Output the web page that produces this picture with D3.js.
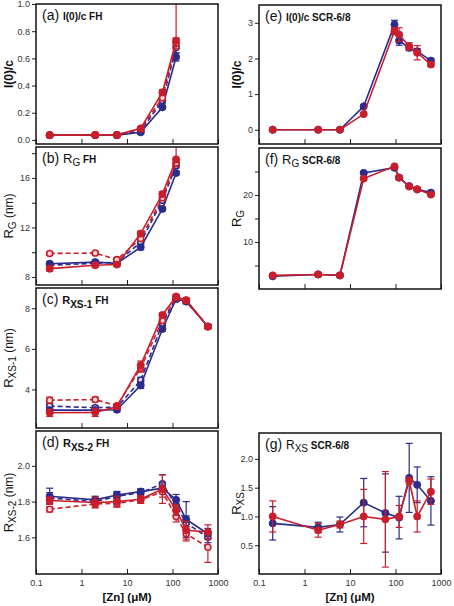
<!DOCTYPE html>
<html><head><meta charset="utf-8">
<script src="https://cdn.jsdelivr.net/npm/d3@7"></script>
<style>
body{margin:0;background:#fff}
svg{display:block}
text{font-family:"Liberation Sans",Arial,sans-serif}
</style>
</head><body>
<svg id="c" width="454" height="606"></svg>
<script>
// ---------- DATA ----------
const xTickValues = [0.1, 1, 10, 100, 1000];
const xTickLabels = ["0.1", "1", "10", "100", "1000"];

// FH series concentrations
const znA = [0.2, 2, 6, 20, 60, 120];
const znC = [0.2, 2, 6, 20, 60, 120, 200, 600];
// SCR-6/8 concentrations
const znEF = [0.2, 2, 6, 20, 95, 120, 200, 300, 600];
const znG = [0.2, 2, 6, 20, 60, 120, 200, 300, 600];

// (a) I(0)/c FH
const aBlue = [0.035, 0.035, 0.035, 0.056, 0.24, 0.61];
const aBlueErr = [0.008, 0.008, 0.008, 0.01, 0.015, 0.03];
const aBlueDash = [0.035, 0.035, 0.035, 0.065, 0.29, 0.68];
const aBlueDashErr = [0.008, 0.008, 0.008, 0.01, 0.02, 0.04];
const aRed = [0.035, 0.037, 0.037, 0.085, 0.35, 0.73];
const aRedErr = [0.008, 0.008, 0.008, 0.01, 0.02, 0.04];
const aRedErrUp = [0.008, 0.008, 0.008, 0.01, 0.02, 0.4];
const aRedDash = [0.035, 0.037, 0.037, 0.08, 0.31, 0.71];
const aRedDashErr = [0.008, 0.008, 0.008, 0.01, 0.02, 0.04];

// (b) RG FH (nm)
const bBlue = [9.07, 9.2, 9.1, 10.4, 13.5, 16.4];
const bBlueErr = [0.15, 0.15, 0.15, 0.2, 0.15, 0.15];
const bBlueDash = [8.95, 9.1, 9.2, 10.8, 14.2, 17.0];
const bBlueDashErr = [0.15, 0.15, 0.15, 0.2, 0.2, 0.2];
const bRed = [8.67, 8.95, 9.0, 11.5, 14.7, 17.5];
const bRedErr = [0.2, 0.15, 0.15, 0.2, 0.2, 0.25];
const bRedErrUp = [0.2, 0.15, 0.15, 0.2, 0.2, 1.6];
const bRedDash = [9.9, 9.93, 9.4, 11.1, 14.4, 17.2];
const bRedDashErr = [0.12, 0.12, 0.15, 0.2, 0.2, 0.25];

// (c) RXS-1 FH (nm)
const cBlue = [2.98, 2.98, 3.0, 4.2, 6.98, 8.45, 8.33, 7.1];
const cBlueErr = [0.12, 0.12, 0.1, 0.15, 0.1, 0.1, 0.1, 0.1];
const cBlueDash = [3.18, 3.1, 3.12, 4.45, 7.25, 8.5, 8.35, 7.1];
const cBlueDashErr = [0.1, 0.1, 0.1, 0.15, 0.1, 0.1, 0.1, 0.1];
const cRed = [2.85, 2.87, 3.15, 5.2, 7.67, 8.58, 8.4, 7.1];
const cRedErr = [0.18, 0.2, 0.1, 0.2, 0.12, 0.1, 0.1, 0.1];
const cRedDash = [3.47, 3.5, 3.2, 5.05, 7.4, 8.52, 8.38, 7.1];
const cRedDashErr = [0.15, 0.12, 0.1, 0.2, 0.12, 0.1, 0.1, 0.1];

// (d) RXS-2 FH (nm)
const dBlue = [1.83, 1.81, 1.837, 1.856, 1.875, 1.81, 1.70, 1.62];
const dBlueErr = [0.045, 0.02, 0.02, 0.015, 0.03, 0.03, 0.1, 0.03];
const dBlueDash = [1.82, 1.80, 1.83, 1.85, 1.90, 1.78, 1.68, 1.60];
const dBlueDashErr = [0.03, 0.02, 0.02, 0.02, 0.05, 0.03, 0.04, 0.03];
const dRed = [1.806, 1.795, 1.80, 1.813, 1.87, 1.753, 1.64, 1.63];
const dRedErr = [0.02, 0.03, 0.03, 0.02, 0.08, 0.03, 0.05, 0.04];
const dRedDash = [1.757, 1.787, 1.79, 1.81, 1.855, 1.716, 1.62, 1.545];
const dRedDashErr = [0.015, 0.02, 0.02, 0.02, 0.03, 0.03, 0.04, 0.085];

// (e) I(0)/c SCR-6/8
const eBlue = [0, 0, 0, 0.656, 2.95, 2.5, 2.3, 2.2, 1.94];
const eBlueErr = [0.02, 0.02, 0.02, 0.05, 0.12, 0.13, 0.08, 0.08, 0.05];
const eRed = [0, 0, 0, 0.44, 2.77, 2.67, 2.34, 2.16, 1.83];
const eRedErr = [0.02, 0.02, 0.02, 0.04, 0.1, 0.19, 0.1, 0.2, 0.06];

// (f) RG SCR-6/8
const fBlue = [2.7, 3.1, 2.9, 24.7, 25.8, 23.7, 21.9, 21.2, 20.5];
const fBlueErr = [0.3, 0.3, 0.3, 0.3, 0.3, 0.3, 0.3, 0.3, 0.3];
const fRed = [2.9, 3.1, 2.9, 23.5, 26.1, 23.7, 21.8, 21.2, 20.1];
const fRedErr = [0.3, 0.3, 0.3, 0.3, 0.3, 0.3, 0.3, 0.3, 0.3];

// (g) RXS SCR-6/8
const gBlue = [0.88, 0.81, 0.86, 1.24, 1.06, 0.98, 1.67, 1.55, 1.27];
const gBlueErr = [0.29, 0.09, 0.13, 0.42, 0.68, 0.37, 0.6, 0.31, 0.42];
const gRed = [1.0, 0.76, 0.86, 1.0, 0.95, 1.0, 1.62, 1.0, 1.43];
const gRedErr = [0.27, 0.12, 0.06, 0.47, 0.83, 0.19, 0.06, 0.27, 0.22];

// ---------- STYLE ----------
const BLUE = "#2b2b8c";
const RED = "#c81e2c";

const svg = d3.select("#c");
svg.append("rect").attr("width", 454).attr("height", 606).attr("fill", "#fff");

const LEFT = [36, 218], RIGHT = [259, 441];

function S(xs, ys, es, color, dashed, esUp) { return {xs, ys, es, esUp: esUp || es, color, dashed}; }

const panels = [
  {key: "a", xr: LEFT, yr: [4, 144], dom: [-0.03, 1.0], ticks: [0, 0.2, 0.4, 0.6, 0.8, 1.0], fmt: d3.format(".1f"), minor: [], showX: false,
   title: [["(a) ", 14, "normal", 0], ["I(0)/c FH", 10, "bold", 0]],
   ylab: [["I(0)/c", 12, "bold", 0]], ylx: 13,
   series: [S(znA, aBlueDash, aBlueDashErr, BLUE, true), S(znA, aBlue, aBlueErr, BLUE, false), S(znA, aRedDash, aRedDashErr, RED, true), S(znA, aRed, aRedErr, RED, false, aRedErrUp)]},
  {key: "b", xr: LEFT, yr: [147, 285], dom: [7.35, 18.5], ticks: [8, 12, 16], fmt: d3.format("d"), minor: [10, 14, 18], showX: false,
   title: [["(b) ", 14, "normal", 0], ["R", 13, "normal", 0], ["G", 10, "normal", 3], [" FH", 10, "bold", -3]],
   ylab: [["R", 13, "normal", 0], ["G", 10, "normal", 3], [" (nm)", 12, "normal", -3]], ylx: 13,
   series: [S(znA, bBlueDash, bBlueDashErr, BLUE, true), S(znA, bBlue, bBlueErr, BLUE, false), S(znA, bRedDash, bRedDashErr, RED, true), S(znA, bRed, bRedErr, RED, false, bRedErrUp)]},
  {key: "c", xr: LEFT, yr: [288, 428], dom: [2.1, 9.0], ticks: [4, 6, 8], fmt: d3.format("d"), minor: [], showX: false,
   title: [["(c) ", 14, "normal", 0], ["R", 11, "bold", 0], ["XS-1", 10, "bold", 4], [" FH", 10, "bold", -4]],
   ylab: [["R", 13, "normal", 0], ["XS-1", 10, "normal", 3], [" (nm)", 12, "normal", -3]], ylx: 13,
   series: [S(znC, cBlueDash, cBlueDashErr, BLUE, true), S(znC, cBlue, cBlueErr, BLUE, false), S(znC, cRedDash, cRedDashErr, RED, true), S(znC, cRed, cRedErr, RED, false)]},
  {key: "d", xr: LEFT, yr: [431, 574], dom: [1.395, 2.195], ticks: [1.6, 1.8, 2.0], fmt: d3.format(".1f"), minor: [], showX: true,
   title: [["(d) ", 14, "normal", 0], ["R", 11, "bold", 0], ["XS-2", 10, "bold", 4], [" FH", 10, "bold", -4]],
   ylab: [["R", 13, "normal", 0], ["XS-2", 10, "normal", 3], [" (nm)", 12, "normal", -3]], ylx: 13,
   series: [S(znC, dBlueDash, dBlueDashErr, BLUE, true), S(znC, dBlue, dBlueErr, BLUE, false), S(znC, dRedDash, dRedDashErr, RED, true), S(znC, dRed, dRedErr, RED, false)]},
  {key: "e", xr: RIGHT, yr: [5, 144], dom: [-0.4, 3.5], ticks: [0, 1, 2, 3], fmt: d3.format("d"), minor: [], showX: false,
   title: [["(e) ", 14, "normal", 0], ["I(0)/c SCR-6/8", 10, "bold", 0]],
   ylab: [["I(0)/c", 12, "bold", 0]], ylx: 241,
   series: [S(znEF, eBlue, eBlueErr, BLUE, false), S(znEF, eRed, eRedErr, RED, false)]},
  {key: "f", xr: RIGHT, yr: [148, 289], dom: [0, 30], ticks: [10, 20], fmt: d3.format("d"), minor: [5, 15, 25], showX: false,
   title: [["(f) ", 14, "normal", 0], ["R", 13, "normal", 0], ["G", 10, "normal", 3], [" SCR-6/8", 10, "bold", -3]],
   ylab: [["R", 13, "normal", 0], ["G", 10, "normal", 3]], ylx: 241,
   series: [S(znEF, fBlue, fBlueErr, BLUE, false), S(znEF, fRed, fRedErr, RED, false)]},
  {key: "g", xr: RIGHT, yr: [433, 574], dom: [0, 2.45], ticks: [0.5, 1.0, 1.5, 2.0], fmt: d3.format(".1f"), minor: [], showX: true,
   title: [["(g) ", 14, "normal", 0], ["R", 12, "normal", 0], ["XS", 10, "normal", 3], [" SCR-6/8", 10, "bold", -3]],
   ylab: [["R", 13, "normal", 0], ["XS", 10, "normal", 3]], ylx: 241,
   series: [S(znG, gBlue, gBlueErr, BLUE, false), S(znG, gRed, gRedErr, RED, false)]}
];

function addSpans(text, parts) {
  parts.forEach(p => {
    text.append("tspan").text(p[0]).attr("font-size", p[1]).attr("font-weight", p[2]).attr("dy", p[3]);
  });
}

panels.forEach(p => {
  const [x0, x1] = p.xr, [y0, y1] = p.yr;
  const x = d3.scaleLog().domain([0.1, 1000]).range([x0, x1]);
  const y = d3.scaleLinear().domain(p.dom).range([y1, y0]);
  const g = svg.append("g");

  svg.append("clipPath").attr("id", "clip-" + p.key)
    .append("rect").attr("x", x0).attr("y", y0).attr("width", x1 - x0).attr("height", y1 - y0);

  // y axis
  g.append("g").attr("transform", `translate(${x0},0)`)
    .call(d3.axisLeft(y).tickValues(p.ticks).tickFormat(p.fmt).tickSizeInner(4).tickSizeOuter(0).tickPadding(2));
  if (p.minor.length) {
    g.append("g").attr("transform", `translate(${x0},0)`)
      .call(d3.axisLeft(y).tickValues(p.minor).tickFormat("").tickSizeInner(4).tickSizeOuter(0));
  }
  // x axis
  g.append("g").attr("transform", `translate(0,${y1})`)
    .call(d3.axisBottom(x).tickValues(xTickValues)
      .tickFormat(p.showX ? (d, i) => xTickLabels[i] : "")
      .tickSizeInner(-5).tickSizeOuter(0).tickPadding(6));
  g.selectAll(".domain").remove();
  g.selectAll(".tick line").attr("stroke", "#222").attr("stroke-width", 1);
  g.selectAll(".tick text").attr("font-size", 9).attr("fill", "#333")
    .attr("font-family", "'Liberation Sans', Arial, sans-serif");

  // data
  const dg = g.append("g").attr("clip-path", `url(#clip-${p.key})`);
  p.series.forEach(s => {
    const pts = s.xs.map((v, i) => ({x: v, y: s.ys[i], e: s.es[i], eu: s.esUp[i]}));
    const line = d3.line().x(d => x(d.x)).y(d => y(d.y));
    dg.append("path").datum(pts).attr("d", line).attr("fill", "none")
      .attr("stroke", s.color).attr("stroke-width", 1.6)
      .attr("stroke-dasharray", s.dashed ? "5,3" : null);
    const eb = dg.append("g").attr("stroke", s.color).attr("stroke-width", 1.2);
    pts.forEach(d => {
      const cx = x(d.x), ya = y(d.y + d.eu), yb = y(d.y - d.e);
      eb.append("line").attr("x1", cx).attr("x2", cx).attr("y1", ya).attr("y2", yb);
      eb.append("line").attr("x1", cx - 3.5).attr("x2", cx + 3.5).attr("y1", ya).attr("y2", ya);
      eb.append("line").attr("x1", cx - 3.5).attr("x2", cx + 3.5).attr("y1", yb).attr("y2", yb);
    });
    dg.append("g").selectAll("circle").data(pts).join("circle")
      .attr("cx", d => x(d.x)).attr("cy", d => y(d.y))
      .attr("r", s.dashed ? 3 : 3.6)
      .attr("fill", s.dashed ? "#f4d8d8" : s.color)
      .attr("stroke", s.color).attr("stroke-width", s.dashed ? 1.6 : 0.8);
  });

  // frame
  g.append("rect").attr("x", x0).attr("y", y0).attr("width", x1 - x0).attr("height", y1 - y0)
    .attr("fill", "none").attr("stroke", "#111").attr("stroke-width", 1.5);

  // title
  const t = g.append("text").attr("x", x0 + 6).attr("y", y0 + 16).attr("fill", "#111");
  addSpans(t, p.title);

  // y label
  const yl = g.append("text").attr("text-anchor", "middle").attr("fill", "#111")
    .attr("transform", `translate(${p.ylx},${(y0 + y1) / 2}) rotate(-90)`);
  addSpans(yl, p.ylab);

  if (p.showX) {
    g.append("text").attr("x", (x0 + x1) / 2).attr("y", 601).attr("text-anchor", "middle")
      .attr("font-size", 11.5).attr("font-weight", "bold").attr("fill", "#111").text("[Zn] (μM)");
  }
});
</script>
</body></html>
